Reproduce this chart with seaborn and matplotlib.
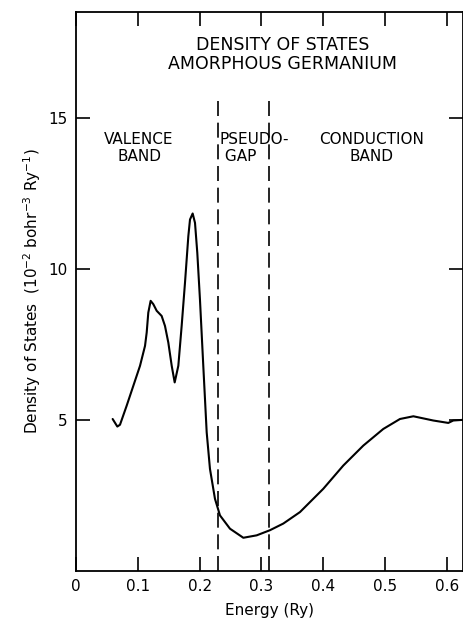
import matplotlib
matplotlib.use("Agg")
import matplotlib.pyplot as plt
import seaborn as sns
import numpy as np
import pandas as pd

# Density of states curve
energy = [0.0593, 0.0669, 0.0712, 0.082, 0.0928, 0.1036, 0.1117, 0.1144, 0.117,
          0.1208, 0.1251, 0.1306, 0.1386, 0.144, 0.1494, 0.1549, 0.1597, 0.1656,
          0.171, 0.1764, 0.1818, 0.1845, 0.1888, 0.1926, 0.1963, 0.2006, 0.206,
          0.2115, 0.2168, 0.2249, 0.233, 0.2492, 0.2708, 0.2924, 0.3139, 0.3355,
          0.3625, 0.4002, 0.4326, 0.465, 0.4973, 0.5243, 0.546, 0.5782, 0.6025,
          0.6106, 0.625]
dos = [5.03, 4.78, 4.84, 5.47, 6.13, 6.79, 7.45, 7.89, 8.55,
       8.94, 8.83, 8.61, 8.44, 8.11, 7.56, 6.79, 6.24, 6.79,
       8.11, 9.54, 11.08, 11.63, 11.83, 11.52, 10.53, 8.99, 6.79,
       4.59, 3.38, 2.39, 1.84, 1.40, 1.10, 1.18, 1.35, 1.57,
       1.95, 2.72, 3.49, 4.15, 4.70, 5.03, 5.12, 4.98, 4.90,
       4.98, 5.0]

region_bounds = [0.23, 0.313]
x_ticks = [0, 0.1, 0.2, 0.3, 0.4, 0.5, 0.6]
x_ticklabels = ["0", "0.1", "0.2", "0.3", "0.4", "0.5", "0.6"]
y_ticks = [5, 10, 15]

df = pd.DataFrame({"Energy": energy, "DOS": dos})

sns.set_style("ticks")
plt.rcParams["font.family"] = ["DejaVu Sans"]
plt.rcParams["text.color"] = "black"
plt.rcParams["axes.labelcolor"] = "black"

fig = plt.figure(figsize=(4.64, 6.27), dpi=100)
ax = fig.add_axes([0.1638, 0.0893, 0.8332, 0.8917])

sns.lineplot(data=df, x="Energy", y="DOS", color="black", linewidth=1.5, ax=ax)

for xb in region_bounds:
    ax.plot([xb, xb], [0, 15.7], color="black", linewidth=1.2, dashes=(9, 4))

ax.set_xlim(0, 0.6257)
ax.set_ylim(0, 18.5)
ax.set_xticks(x_ticks)
ax.set_xticklabels(x_ticklabels)
ax.set_yticks(y_ticks)
ax.tick_params(direction="in", length=10, width=1.2, top=True, right=True,
               labelsize=11, colors="black", pad=6)
for s in ax.spines.values():
    s.set_linewidth(1.3)
    s.set_color("black")

ax.set_xlabel("Energy (Ry)", fontsize=11, labelpad=6)
ax.set_ylabel("Density of States  (10$^{-2}$ bohr$^{-3}$ Ry$^{-1}$)", fontsize=11, labelpad=4)

ax.text(0.334, 17.1, "DENSITY OF STATES\nAMORPHOUS GERMANIUM", ha="center", va="center",
        fontsize=12.5, linespacing=1.1)
ax.text(0.102, 14.0, "VALENCE\nBAND", ha="center", va="center", fontsize=11, linespacing=1.15)
ax.text(0.233, 14.0, "PSEUDO-\n GAP", ha="left", va="center", fontsize=11, linespacing=1.15)
ax.text(0.479, 14.0, "CONDUCTION\nBAND", ha="center", va="center", fontsize=11, linespacing=1.15)

fig.savefig("out.png", dpi=100)
